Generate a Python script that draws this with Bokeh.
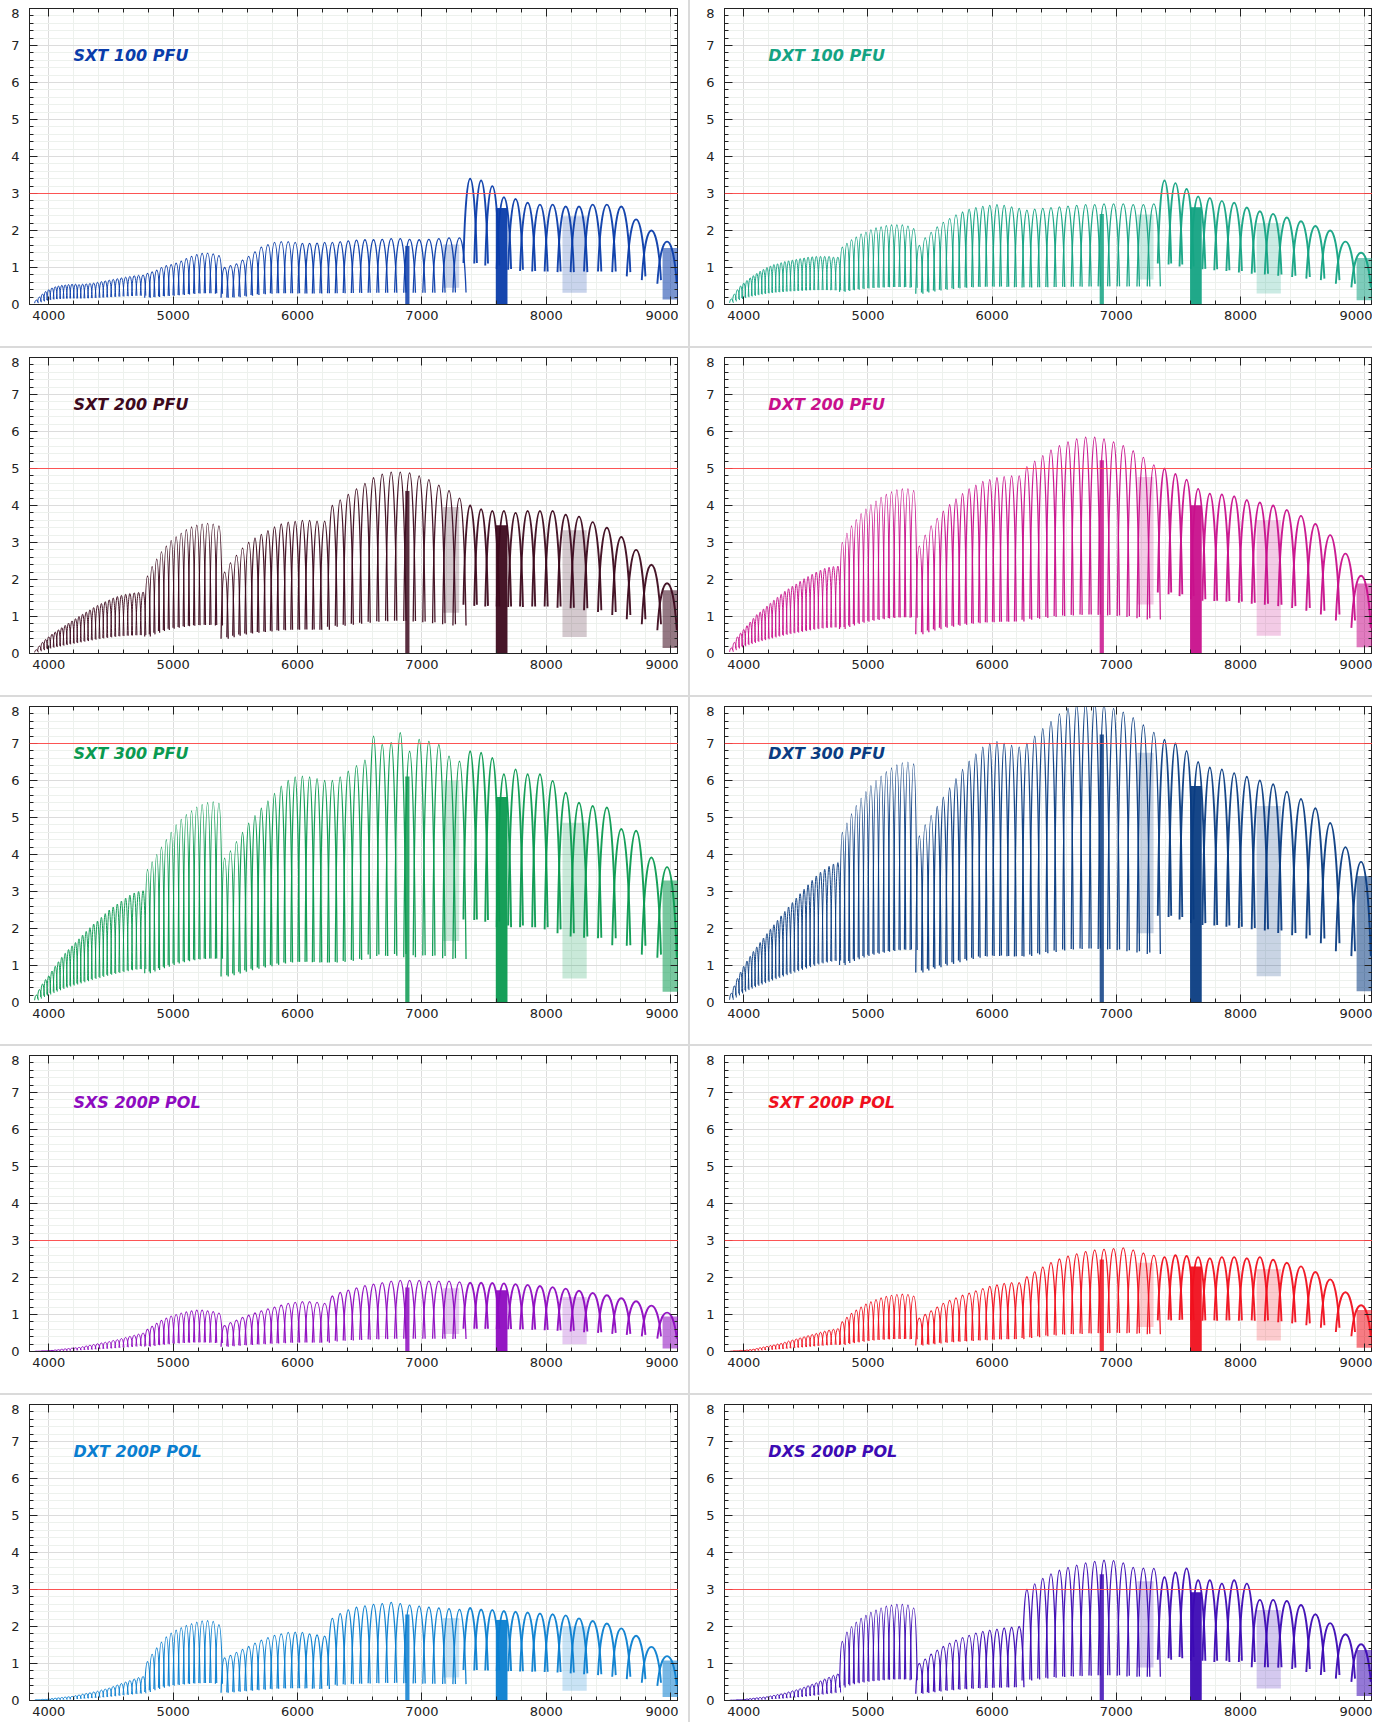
import numpy as np
from bokeh.plotting import figure
from bokeh.models import (Range1d, LinearAxis, Label, Span, GridBox, Spacer,
                          SingleIntervalTicker, ColumnDataSource)
from bokeh.embed import file_html
from bokeh.resources import INLINE

# ---------------- data ----------------
# echelle order centres (Angstrom)
order_center = [
    3901, 3925, 3950, 3975, 4000, 4026, 4052, 4078, 4105, 4132,
    4159, 4187, 4215, 4243, 4272, 4301, 4331, 4361, 4392, 4423,
    4454, 4486, 4518, 4551, 4584, 4618, 4652, 4687, 4722, 4758,
    4794, 4831, 4868, 4906, 4945, 4984, 5024, 5065, 5106, 5148,
    5190, 5233, 5277, 5322, 5368,
    5414, 5461, 5509, 5558, 5607, 5658, 5709, 5762, 5815, 5869,
    5925, 5981, 6039, 6097, 6157, 6218, 6280, 6343, 6408, 6474,
    6542, 6611, 6681, 6753, 6826, 6901, 6978, 7056, 7136, 7218, 7302,
    7388, 7476, 7566, 7659, 7753, 7850, 7949, 8051, 8156, 8263,
    8373, 8487, 8603, 8722, 8845, 8971,
]
# first order index of each spectrograph segment, its trough/peak ratio and stroke
arm_start = [0, 30, 45, 76]
arm_trough = [0.30, 0.22, 0.18, 0.33]
arm_stroke = [1.0, 1.2, 1.3, 1.9]

titles = ["SXT 100 PFU", "DXT 100 PFU", "SXT 200 PFU", "DXT 200 PFU",
          "SXT 300 PFU", "DXT 300 PFU", "SXS 200P POL", "SXT 200P POL",
          "DXT 200P POL", "DXS 200P POL"]
colors = ["#0a3caa", "#14a383", "#3d0a1e", "#c8108c", "#0a9a50",
          "#0a3c82", "#8e0bc0", "#f0101e", "#0a7ed0", "#3c0ab4"]
thresholds = [3, 3, 5, 5, 7, 7, 3, 3, 3, 3]

peak_sxt100 = [
    0.12, 0.2, 0.28, 0.35, 0.4, 0.45, 0.48, 0.5, 0.52, 0.53,
    0.54, 0.55, 0.55, 0.54, 0.55, 0.56, 0.57, 0.58, 0.6, 0.62,
    0.64, 0.66, 0.68, 0.7, 0.72, 0.74, 0.76, 0.78, 0.79, 0.8,
    0.84, 0.88, 0.93, 1.0, 1.05, 1.08, 1.12, 1.17, 1.24, 1.3, 1.35, 1.38, 1.39, 1.37, 1.32,
    1.0, 1.05, 1.1, 1.2, 1.3, 1.42, 1.55, 1.62, 1.68, 1.7, 1.7,
    1.68, 1.65, 1.65, 1.66, 1.68, 1.68, 1.7, 1.72, 1.74, 1.75,
    1.75, 1.76, 1.78, 1.78, 1.76, 1.75, 1.76, 1.78, 1.8, 1.8,
    3.4, 3.35, 3.2, 2.9, 2.85, 2.75, 2.7, 2.7, 2.65, 2.65, 2.7, 2.7, 2.65, 2.3, 2.0, 1.7,
]
peak_dxt100 = [
    0.15, 0.28, 0.4, 0.5, 0.58, 0.65, 0.72, 0.78, 0.84, 0.9,
    0.95, 1.0, 1.04, 1.08, 1.1, 1.13, 1.16, 1.18, 1.2, 1.22,
    1.24, 1.26, 1.28, 1.29, 1.3, 1.3, 1.3, 1.3, 1.28, 1.28,
    1.55, 1.65, 1.75, 1.82, 1.9, 1.96, 2.02, 2.07, 2.1, 2.13, 2.15, 2.15, 2.15, 2.12, 2.05,
    1.6, 1.8, 1.95, 2.1, 2.22, 2.32, 2.42, 2.5, 2.57, 2.62, 2.65,
    2.68, 2.7, 2.68, 2.64, 2.6, 2.55, 2.58, 2.6, 2.62, 2.64,
    2.66, 2.68, 2.7, 2.7, 2.72, 2.72, 2.72, 2.7, 2.7, 2.72,
    3.35, 3.28, 3.12, 2.92, 2.88, 2.8, 2.75, 2.62, 2.52, 2.45, 2.35, 2.25, 2.12, 2.0, 1.7, 1.4,
]
peak_sxt200 = [
    0.1, 0.2, 0.3, 0.38, 0.45, 0.52, 0.58, 0.64, 0.7, 0.76,
    0.82, 0.88, 0.94, 1.0, 1.06, 1.12, 1.18, 1.24, 1.3, 1.35,
    1.4, 1.45, 1.5, 1.54, 1.57, 1.6, 1.62, 1.64, 1.65, 1.66,
    2.1, 2.35, 2.55, 2.75, 2.9, 3.05, 3.15, 3.25, 3.35, 3.42, 3.47, 3.5, 3.52, 3.5, 3.45,
    2.2, 2.45, 2.65, 2.85, 3.0, 3.12, 3.22, 3.32, 3.42, 3.5, 3.55,
    3.57, 3.6, 3.6, 3.58, 3.58, 4.0, 4.15, 4.3, 4.45, 4.6,
    4.75, 4.85, 4.9, 4.9, 4.88, 4.8, 4.7, 4.55, 4.4, 4.2,
    4.0, 3.9, 3.85, 3.85, 3.8, 3.85, 3.85, 3.85, 3.75, 3.7, 3.55, 3.4, 3.15, 2.8, 2.4, 1.9,
]
peak_dxt200 = [
    0.15, 0.3, 0.45, 0.55, 0.65, 0.75, 0.85, 0.95, 1.05, 1.12,
    1.2, 1.28, 1.36, 1.44, 1.52, 1.6, 1.68, 1.75, 1.82, 1.88,
    1.95, 2.02, 2.08, 2.14, 2.2, 2.25, 2.3, 2.33, 2.35, 2.36,
    3.0, 3.25, 3.45, 3.62, 3.78, 3.9, 4.02, 4.12, 4.22, 4.3, 4.37, 4.42, 4.45, 4.45, 4.4,
    2.9, 3.2, 3.45, 3.65, 3.85, 4.02, 4.18, 4.32, 4.45, 4.55, 4.65,
    4.7, 4.75, 4.78, 4.8, 4.8, 5.05, 5.2, 5.35, 5.5, 5.62,
    5.72, 5.8, 5.85, 5.85, 5.8, 5.72, 5.62, 5.48, 5.3, 5.1,
    5.0, 4.85, 4.7, 4.45, 4.32, 4.3, 4.25, 4.15, 4.08, 4.0, 3.88, 3.72, 3.5, 3.2, 2.7, 2.1,
]
peak_sxt300 = [
    0.2, 0.35, 0.5, 0.62, 0.72, 0.85, 0.98, 1.1, 1.22, 1.33,
    1.43, 1.53, 1.62, 1.72, 1.82, 1.92, 2.02, 2.12, 2.2, 2.3,
    2.4, 2.5, 2.58, 2.66, 2.74, 2.82, 2.9, 2.96, 3.0, 3.02,
    3.6, 3.8, 4.0, 4.2, 4.4, 4.6, 4.8, 4.95, 5.08, 5.18, 5.28, 5.35, 5.4, 5.42, 5.38,
    3.9, 4.1, 4.35, 4.6, 4.85, 5.05, 5.25, 5.45, 5.65, 5.85, 6.0,
    6.1, 6.12, 6.1, 6.05, 6.0, 6.0, 6.1, 6.25, 6.4, 6.55,
    7.2, 6.97, 7.02, 7.29, 6.79, 7.11, 7.06, 6.97, 6.66, 6.52,
    6.79, 6.75, 6.61, 6.17, 6.3, 6.17, 6.17, 5.99, 5.67, 5.4, 5.31, 5.27, 4.69, 4.64, 3.92, 3.66,
]
peak_dxt300 = [
    0.25, 0.45, 0.65, 0.82, 0.98, 1.12, 1.25, 1.38, 1.5, 1.62,
    1.74, 1.86, 1.98, 2.1, 2.22, 2.34, 2.46, 2.58, 2.7, 2.82,
    2.94, 3.06, 3.18, 3.3, 3.42, 3.52, 3.6, 3.68, 3.74, 3.78,
    4.6, 4.85, 5.1, 5.32, 5.52, 5.7, 5.86, 6.0, 6.12, 6.24, 6.34, 6.42, 6.48, 6.5, 6.45,
    4.5, 4.8, 5.05, 5.3, 5.55, 5.8, 6.05, 6.3, 6.52, 6.72, 6.9,
    7.0, 7.05, 7.0, 6.95, 6.9, 7.0, 7.2, 7.4, 7.6, 7.8,
    7.95, 8.05, 8.1, 8.1, 8.05, 7.95, 7.85, 7.7, 7.5, 7.3,
    7.1, 7.0, 6.8, 6.5, 6.35, 6.3, 6.2, 6.1, 6.0, 5.9, 5.7, 5.5, 5.25, 4.85, 4.2, 3.8,
]
peak_sxs200p = [
    0.01, 0.01, 0.02, 0.02, 0.03, 0.03, 0.04, 0.05, 0.06, 0.07,
    0.08, 0.09, 0.1, 0.11, 0.13, 0.15, 0.17, 0.19, 0.21, 0.23,
    0.25, 0.27, 0.3, 0.32, 0.35, 0.38, 0.41, 0.44, 0.47, 0.5,
    0.6, 0.68, 0.76, 0.84, 0.9, 0.96, 1.0, 1.04, 1.07, 1.1, 1.12, 1.12, 1.1, 1.08, 1.04,
    0.7, 0.78, 0.85, 0.92, 0.98, 1.04, 1.1, 1.15, 1.2, 1.25, 1.3,
    1.33, 1.35, 1.35, 1.33, 1.3, 1.5, 1.6, 1.66, 1.72, 1.78,
    1.82, 1.86, 1.9, 1.92, 1.92, 1.92, 1.9, 1.9, 1.9, 1.88,
    1.86, 1.86, 1.85, 1.84, 1.82, 1.8, 1.77, 1.74, 1.7, 1.64, 1.58, 1.52, 1.44, 1.36, 1.24, 1.05,
]
peak_sxt200p = [
    0.01, 0.02, 0.02, 0.03, 0.03, 0.04, 0.05, 0.06, 0.08, 0.1,
    0.12, 0.14, 0.16, 0.18, 0.2, 0.22, 0.25, 0.28, 0.31, 0.34,
    0.37, 0.4, 0.43, 0.46, 0.49, 0.52, 0.55, 0.58, 0.6, 0.62,
    0.8, 0.92, 1.03, 1.12, 1.2, 1.28, 1.34, 1.4, 1.45, 1.49, 1.52, 1.54, 1.55, 1.54, 1.5,
    0.9, 1.0, 1.1, 1.2, 1.3, 1.38, 1.45, 1.52, 1.58, 1.64, 1.7,
    1.76, 1.8, 1.84, 1.86, 1.86, 2.02, 2.15, 2.28, 2.4, 2.5,
    2.58, 2.64, 2.7, 2.74, 2.76, 2.78, 2.8, 2.74, 2.66, 2.6,
    2.55, 2.6, 2.58, 2.55, 2.52, 2.55, 2.55, 2.52, 2.55, 2.48, 2.4, 2.3, 2.15, 1.95, 1.6, 1.25,
]
peak_dxt200p = [
    0.02, 0.02, 0.03, 0.03, 0.04, 0.05, 0.06, 0.07, 0.08, 0.09,
    0.1, 0.11, 0.13, 0.15, 0.17, 0.19, 0.21, 0.23, 0.25, 0.28,
    0.31, 0.34, 0.38, 0.42, 0.46, 0.5, 0.54, 0.58, 0.62, 0.65,
    1.05, 1.25, 1.42, 1.58, 1.72, 1.82, 1.9, 1.97, 2.03, 2.08, 2.12, 2.15, 2.16, 2.14, 2.05,
    1.15, 1.22, 1.3, 1.38, 1.46, 1.55, 1.63, 1.7, 1.76, 1.8, 1.84,
    1.85, 1.84, 1.8, 1.77, 1.74, 2.22, 2.35, 2.45, 2.52, 2.56,
    2.6, 2.62, 2.65, 2.62, 2.58, 2.55, 2.52, 2.5, 2.48, 2.46,
    2.5, 2.46, 2.45, 2.42, 2.4, 2.38, 2.35, 2.33, 2.3, 2.22, 2.15, 2.08, 1.95, 1.75, 1.45, 1.2,
]
peak_dxs200p = [
    0.01, 0.01, 0.02, 0.02, 0.03, 0.04, 0.05, 0.06, 0.07, 0.08,
    0.09, 0.1, 0.12, 0.14, 0.16, 0.18, 0.2, 0.23, 0.26, 0.29,
    0.32, 0.36, 0.4, 0.44, 0.48, 0.53, 0.58, 0.63, 0.68, 0.72,
    1.6, 1.85, 2.0, 2.12, 2.22, 2.3, 2.38, 2.44, 2.5, 2.55, 2.58, 2.6, 2.6, 2.58, 2.5,
    1.0, 1.12, 1.25, 1.36, 1.46, 1.55, 1.63, 1.7, 1.76, 1.82, 1.87,
    1.9, 1.93, 1.96, 1.98, 2.0, 3.0, 3.15, 3.3, 3.42, 3.52,
    3.6, 3.66, 3.72, 3.76, 3.79, 3.78, 3.72, 3.6, 3.58, 3.57,
    3.33, 3.46, 3.57, 3.25, 3.25, 3.16, 3.25, 3.16, 2.72, 2.72, 2.69, 2.58, 2.33, 2.09, 1.79, 1.52,
]
peaks = [peak_sxt100, peak_dxt100, peak_sxt200, peak_dxt200, peak_sxt300,
         peak_dxt300, peak_sxs200p, peak_sxt200p, peak_dxt200p, peak_dxs200p]

# telluric absorption bands (Angstrom) and how they look
band_lo = [6866, 7170, 7594, 8130, 8935]
band_hi = [6900, 7300, 7688, 8325, 9063]
band_floor = [0.0, 0.25, 0.0, 0.12, 0.08]
band_alpha = [0.85, 0.22, 0.95, 0.22, 0.55]

x_ticks_major = 1000
y_ticks_major = 1

# ---------------- styling ----------------
X0, X1 = 3845, 9063
FONT = "DejaVu Sans"
SEP = "#dadada"
INK = "#222222"

c = np.array(order_center, dtype=float)
spacing = np.gradient(c)
ratio = np.zeros(len(c))
stroke = np.zeros(len(c))
for k, s in enumerate(arm_start):
    ratio[s:] = arm_trough[k]
    stroke[s:] = arm_stroke[k]


def style_axis(ax, labels=True, standoff=6):
    ax.axis_line_color = INK
    ax.major_tick_line_color = INK
    ax.minor_tick_line_color = INK
    ax.major_tick_in = 8
    ax.major_tick_out = 0
    ax.minor_tick_in = 4
    ax.minor_tick_out = 0
    ax.major_label_text_font = FONT
    ax.major_label_text_color = INK
    if labels:
        ax.major_label_text_font_size = "13px"
        ax.major_label_standoff = standoff
    else:
        ax.major_label_text_font_size = "0px"
        ax.major_label_standoff = 0


FIG_H = 318


def make_panel(i, width):
    color = colors[i]
    pk = np.array(peaks[i], dtype=float)
    p = figure(width=width, height=FIG_H, x_range=Range1d(X0, X1), y_range=Range1d(0, 8),
               output_backend="svg", toolbar_location=None,
               min_border_left=20, min_border_right=0, min_border_top=0, min_border_bottom=22,
               background_fill_color="white", border_fill_color="white",
               outline_line_color=INK, outline_line_width=1)
    xt = SingleIntervalTicker(interval=x_ticks_major, num_minor_ticks=5)
    yt = SingleIntervalTicker(interval=y_ticks_major, num_minor_ticks=5)
    p.xaxis.ticker = xt
    p.yaxis.ticker = yt
    style_axis(p.xaxis[0], True, 6)
    style_axis(p.yaxis[0], True, 10)
    top = LinearAxis(ticker=xt)
    style_axis(top, False)
    right = LinearAxis(ticker=yt)
    style_axis(right, False)
    p.add_layout(top, "above")
    p.add_layout(right, "right")

    for g in (p.xgrid, p.ygrid):
        g.grid_line_color = "#dcdcdc"
        g.grid_line_width = 1
        g.minor_grid_line_color = "#edf1ed"
        g.minor_grid_line_width = 1

    # echelle orders as blaze arches
    half = 0.62 * spacing
    xa = c - half
    xb = c + half
    ya = ratio * pk
    yc = (4 * pk - ya) / 3.0
    src = ColumnDataSource(dict(x0=xa, y0=ya, x1=xb, y1=ya,
                                cx0=xa + 0.2 * (xb - xa), cy0=yc,
                                cx1=xb - 0.2 * (xb - xa), cy1=yc, lw=stroke))
    p.bezier(x0="x0", y0="y0", x1="x1", y1="y1", cx0="cx0", cy0="cy0",
             cx1="cx1", cy1="cy1", source=src, line_color=color, line_width="lw",
             line_alpha=0.95)

    # telluric bands
    lo, hi, bt, tp, al = [], [], [], [], []
    for b in range(len(band_lo)):
        mid = 0.5 * (band_lo[b] + band_hi[b])
        j = int(np.argmin(np.abs(c - mid)))
        lo.append(band_lo[b]); hi.append(band_hi[b])
        bt.append(band_floor[b] * pk[j]); tp.append(0.9 * pk[j]); al.append(band_alpha[b])
    p.quad(left=lo, right=hi, bottom=bt, top=tp, fill_color=color, fill_alpha=al,
           line_color=None)

    p.add_layout(Span(location=thresholds[i], dimension="width", line_color="#ff4545",
                      line_width=1.2, line_alpha=0.9))
    p.add_layout(Label(x=X0 + 44 * (X1 - X0) / 650.0, y=8 - 47 / 37.0, text=titles[i],
                       text_font=FONT, text_font_style="bold italic", text_font_size="16px",
                       text_color=color, text_baseline="middle"))
    return p


figs = [make_panel(i, 670 if i % 2 == 0 else 669) for i in range(10)]

children = [(Spacer(width=8, height=8), 0, 0)]
for r in range(5):
    row = 1 + 4 * r
    children.append((figs[2 * r], row, 1))
    children.append((figs[2 * r + 1], row, 5))
    if r < 4:
        children.append((Spacer(width=1, height=20), row + 1, 1))
        children.append((Spacer(width=1372, height=2, styles={"background-color": SEP}),
                         row + 2, 0, 1, 6))
        children.append((Spacer(width=1, height=9), row + 3, 1))
children.append((Spacer(width=10, height=1), 1, 2))
children.append((Spacer(width=2, height=8 + 5 * FIG_H + 4 * 31,
                        styles={"background-color": SEP}), 0, 3, 18, 1))
children.append((Spacer(width=13, height=1), 1, 4))

grid = GridBox(children=children, spacing=0)

open("out.html", "w").write(file_html(grid, INLINE))
